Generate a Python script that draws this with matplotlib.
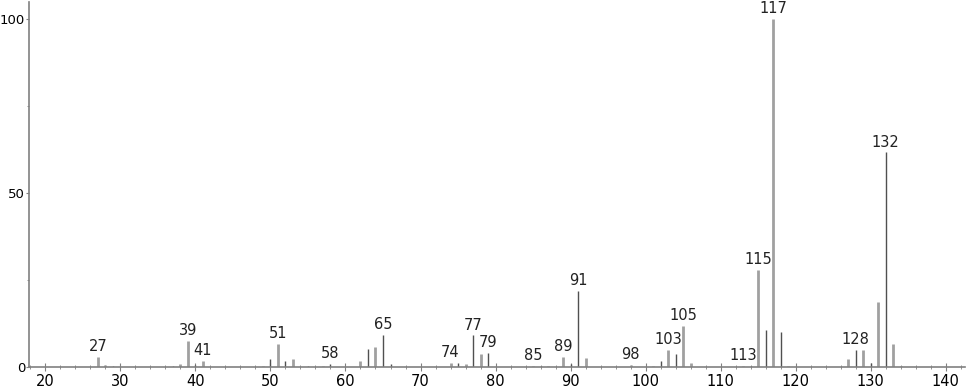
import matplotlib.pyplot as plt
from matplotlib.ticker import MultipleLocator

# mass spectrum: m/z and relative intensity
mz_dark = [29, 37, 40, 50, 52, 55, 58, 63, 65, 66, 75, 77, 79, 86, 90, 91,
           102, 104, 114, 116, 118, 128, 130, 132]
int_dark = [0.3, 0.3, 0.5, 2.2, 1.8, 0.3, 0.9, 5.3, 9.3, 0.8, 1.2, 9.1, 4.0, 0.3, 0.9, 21.8,
            1.8, 3.8, 0.4, 10.6, 10.0, 4.9, 1.1, 61.7]
mz_light = [27, 28, 38, 39, 41, 49, 51, 53, 57, 62, 64, 74, 76, 78, 85, 87, 89, 92,
            98, 101, 103, 105, 106, 113, 115, 117, 119, 127, 129, 131, 133, 134]
int_light = [2.9, 0.5, 1.0, 7.5, 1.7, 0.3, 6.7, 2.3, 0.3, 1.7, 5.7, 1.2, 1.0, 3.7, 0.4, 0.3, 2.9, 2.7,
             0.5, 0.3, 4.9, 11.9, 1.2, 0.4, 27.9, 100.0, 0.3, 2.3, 4.8, 18.8, 6.7, 0.3]
labels = [27, 39, 41, 51, 58, 65, 74, 77, 79, 85, 89, 91, 98, 103, 105, 113, 115, 117, 128, 132]

fig = plt.figure(figsize=(9.66, 3.89), dpi=100)
ax = fig.add_axes([0.030, 0.0566, 0.969, 0.938])

ax.vlines(mz_light, 0, int_light, color='#a0a0a0', linewidth=2.0)
ax.vlines(mz_dark, 0, int_dark, color='#505050', linewidth=1.0)

heights = dict(zip(mz_light, int_light))
heights.update(zip(mz_dark, int_dark))
for m in labels:
    ax.annotate(str(m), (m, heights[m]), xytext=(0, 2), textcoords='offset points',
                ha='center', va='bottom', fontsize=10.5, color='#222222')

ax.set_xlim(17.8, 142.6)
ax.set_ylim(0, 104.9)
ax.xaxis.set_major_locator(MultipleLocator(10))
ax.xaxis.set_minor_locator(MultipleLocator(2))
ax.yaxis.set_major_locator(MultipleLocator(50))
ax.yaxis.set_minor_locator(MultipleLocator(25))

for s in ['top', 'right']:
    ax.spines[s].set_visible(False)
for s in ['left', 'bottom']:
    ax.spines[s].set_color('#808080')
    ax.spines[s].set_linewidth(1.2)

ax.tick_params(axis='x', which='major', direction='inout', length=6, color='#808080',
               labelsize=10.5, pad=2)
ax.tick_params(axis='x', which='minor', direction='inout', length=3, color='#808080')
ax.tick_params(axis='y', which='major', direction='out', length=2.5, color='#808080',
               labelsize=9.5, pad=0.3)
ax.tick_params(axis='y', which='minor', direction='out', length=1.5, color='#808080')

fig.savefig('out.png', dpi=100)
